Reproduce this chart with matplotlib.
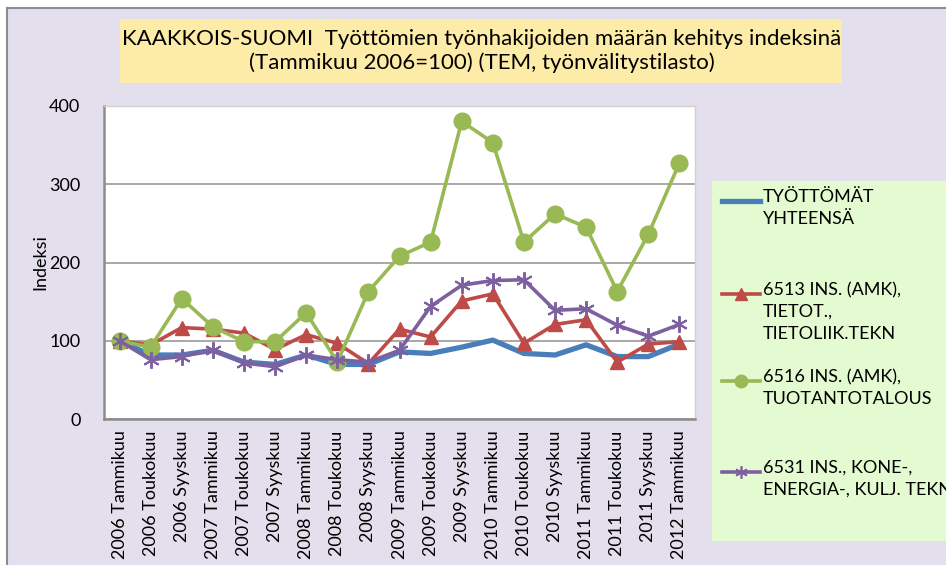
import matplotlib

matplotlib.use("Agg")
import matplotlib.pyplot as plt
from matplotlib.lines import Line2D
from matplotlib.patches import Rectangle

plt.rcParams.update(
    {
        "font.family": ["Lato", "DejaVu Sans"],
        "font.size": 13,
    }
)

# period labels (x axis)
PERIODS = [
    "2006 Tammikuu", "2006 Toukokuu", "2006 Syyskuu",
    "2007 Tammikuu", "2007 Toukokuu", "2007 Syyskuu",
    "2008 Tammikuu", "2008 Toukokuu", "2008 Syyskuu",
    "2009 Tammikuu", "2009 Toukokuu", "2009 Syyskuu",
    "2010 Tammikuu", "2010 Toukokuu", "2010 Syyskuu",
    "2011 Tammikuu", "2011 Toukokuu", "2011 Syyskuu",
    "2012 Tammikuu",
]

# index values, Tammikuu 2006 = 100
total = [100, 82, 82, 88, 73, 70, 82, 70, 70, 86, 84, 92, 101, 84, 82, 95, 80, 80, 96]
ins_6513 = [100, 95, 117, 115, 110, 89, 108, 97, 71, 115, 105, 151, 160, 97, 121, 127, 73, 96, 99]
ins_6516 = [100, 92, 154, 118, 99, 99, 136, 73, 163, 208, 226, 380, 353, 226, 262, 245, 163, 236, 327]
ins_6531 = [100, 76, 80, 89, 72, 67, 82, 76, 73, 88, 144, 171, 177, 178, 139, 141, 120, 106, 121]

LABELS = [
    "TYÖTTÖMÄT\nYHTEENSÄ",
    "6513 INS. (AMK),\nTIETOT.,\nTIETOLIIK.TEKN",
    "6516 INS. (AMK),\nTUOTANTOTALOUS",
    "6531 INS., KONE-,\nENERGIA-, KULJ. TEKN.",
]

BLUE = "#4a7ebb"
RED = "#be4b48"
GREEN = "#98b954"
PURPLE = "#7d60a0"

W, H = 946, 565
fig = plt.figure(figsize=(W / 100, H / 100), dpi=100)
fig.patch.set_facecolor("white")


def fx(px):
    return px / W


def fy(py):
    return 1 - py / H


# chart area background with grey border
fig.add_artist(
    Rectangle((fx(7), fy(700)), fx(1000), (700 - 8) / H,
              transform=fig.transFigure, facecolor="#e4dfec",
              edgecolor="#8c8c8c", linewidth=1.5, zorder=0)
)

# title box
fig.add_artist(
    Rectangle((fx(120), fy(83)), fx(722), 64 / H, transform=fig.transFigure,
              facecolor="#fdeba8", edgecolor="none", zorder=1)
)
fig.text(fx(482), fy(51),
         "KAAKKOIS-SUOMI  Työttömien työnhakijoiden määrän kehitys indeksinä\n"
         "(Tammikuu 2006=100) (TEM, työnvälitystilasto)",
         ha="center", va="center", fontsize=16, linespacing=1.2, zorder=2)

ax = fig.add_axes([fx(104), fy(419.3), fx(695 - 104), (419.3 - 105.7) / H])
ax.set_facecolor("white")
x = list(range(len(PERIODS)))

ax.plot(x, total, color=BLUE, lw=3.8, zorder=3, solid_capstyle="round")
ax.plot(x, ins_6513, color=RED, lw=2.6, marker="^", ms=10.5, zorder=4)
ax.plot(x, ins_6516, color=GREEN, lw=2.6, marker="o", ms=12, zorder=5)
ax.plot(x, ins_6531, color=PURPLE, lw=2.6, marker=(6, 2, 0), ms=12, mew=1.4, zorder=6)

ax.set_xlim(-0.5, len(PERIODS) - 0.5)
ax.set_ylim(0, 400)
ax.set_yticks([0, 100, 200, 300, 400])
ax.set_xticks(x)
ax.set_xticklabels(PERIODS, rotation=90, fontsize=13)
ax.tick_params(axis="both", length=0)
ax.tick_params(axis="y", pad=17, labelsize=13)
ax.tick_params(axis="x", pad=8)
ax.grid(axis="y", color="#999999", lw=1.2, zorder=0)
ax.set_axisbelow(True)
for side in ("left", "bottom"):
    ax.spines[side].set_color("#8c8c8c")
    ax.spines[side].set_linewidth(1.8)
for side in ("top", "right"):
    ax.spines[side].set_color("#d0d0d0")
    ax.spines[side].set_linewidth(1.0)
fig.text(fx(40), fy(262), "Indeksi", rotation=90, ha="center", va="center", fontsize=13)

# legend box
fig.add_artist(
    Rectangle((fx(712), fy(541)), fx(300), 360 / H, transform=fig.transFigure,
              facecolor="#e4fbd2", edgecolor="none", zorder=1)
)
styles = [
    dict(color=BLUE, lw=3.8),
    dict(color=RED, lw=2.6, marker="^", ms=9),
    dict(color=GREEN, lw=2.6, marker="o", ms=9),
    dict(color=PURPLE, lw=2.6, marker=(6, 2, 0), ms=9, mew=1.2),
]
entry_y = [201, 294, 381, 472]
for st, lab, yy in zip(styles, LABELS, entry_y):
    fig.add_artist(Line2D([fx(722), fx(760)], [fy(yy), fy(yy)],
                          transform=fig.transFigure, color=st["color"],
                          lw=st["lw"], zorder=2))
    if "marker" in st:
        fig.add_artist(Line2D([fx(741)], [fy(yy)], transform=fig.transFigure, ls="none",
                              color=st["color"], marker=st["marker"], ms=st["ms"],
                              mew=st.get("mew", 1.0), zorder=3))
    fig.text(fx(763), fy(yy - 12), lab, ha="left", va="top", fontsize=13,
             linespacing=1.45, zorder=3)

fig.savefig("out.png", dpi=100)
